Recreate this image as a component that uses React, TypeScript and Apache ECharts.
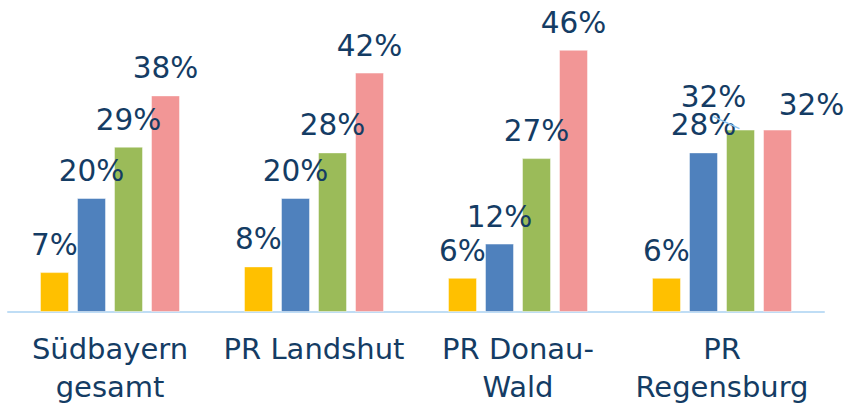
import React, { useEffect, useRef } from "react";
import * as echarts from "echarts";

const categories = ["Südbayern\ngesamt", "PR Landshut", "PR Donau-\nWald", "PR\nRegensburg"];
const seriesNames = ["Serie 1", "Serie 2", "Serie 3", "Serie 4"];
const serie1 = [7, 8, 6, 6];
const serie2 = [20, 20, 12, 28];
const serie3 = [29, 28, 27, 32];
const serie4 = [38, 42, 46, 32];

const colors = ["#FFC000", "#4F81BD", "#9BBB59", "#F29696"];
const textColor = "#143C64";
const font = "'DejaVu Sans', Verdana, sans-serif";
const BAR_W = 29;
const BAR_GAP_PX = 8;

// manual label displacements [seriesIndex, dataIndex, dx, dy, withLeaderLine]
const labelMoves: [number, number, number, number, boolean][] = [
  [2, 3, -27, -6, true],
  [3, 3, 34, 2, false],
];

export default function App() {
  const ref = useRef<HTMLDivElement>(null);
  useEffect(() => {
    if (!ref.current) return;
    const chart = echarts.init(ref.current, undefined, { renderer: "svg" });
    const all = [serie1, serie2, serie3, serie4];
    chart.setOption({
      animation: false,
      grid: { left: 8, right: 32, top: 27, bottom: 100, containLabel: false },
      xAxis: {
        type: "category",
        data: categories,
        axisLine: { show: true, lineStyle: { color: "#BFDDF5", width: 2 } },
        axisTick: { show: false },
        axisLabel: {
          color: textColor,
          fontFamily: font,
          fontSize: 29,
          lineHeight: 38,
          margin: 18,
          interval: 0,
        },
      },
      yAxis: { type: "value", min: 0, max: 50, show: false, splitLine: { show: false } },
      series: all.map((vals, si) => ({
        type: "bar",
        name: seriesNames[si],
        barWidth: BAR_W,
        barGap: ((BAR_GAP_PX / BAR_W) * 100).toFixed(1) + "%",
        itemStyle: { color: colors[si], borderColor: "rgba(255,255,255,0.45)", borderWidth: 1 },
        data: vals,
        label: {
          show: true,
          position: "top",
          distance: 12,
          formatter: "{c}%",
          color: textColor,
          fontFamily: font,
          fontSize: 29.5,
        },
        labelLayout: (params: any) => {
          const m = labelMoves.find((x) => x[0] === params.seriesIndex && x[1] === params.dataIndex);
          return m ? { dx: m[2], dy: m[3] } : {};
        },
      })),
    });
    // leader lines for moved labels, positioned through the chart's own scales
    const lines = labelMoves
      .filter((m) => m[4])
      .map((m) => {
        const [si, di, dx] = m;
        const p = chart.convertToPixel({ gridIndex: 0 } as any, [di, all[si][di]]) as number[];
        const cx = p[0] + (si - (all.length - 1) / 2) * (BAR_W + BAR_GAP_PX);
        const top = p[1];
        return {
          type: "line",
          z: 100,
          silent: true,
          shape: { x1: cx + dx, y1: top - 13, x2: cx - 1, y2: top - 1 },
          style: { stroke: "#8DC3F0", lineWidth: 1.5 },
        };
      });
    chart.setOption({ graphic: { elements: lines } });
    return () => chart.dispose();
  }, []);
  return (
    <div
      ref={ref}
      style={{ position: "fixed", left: 0, top: 0, width: 856, height: 412, background: "#fff" }}
    />
  );
}
